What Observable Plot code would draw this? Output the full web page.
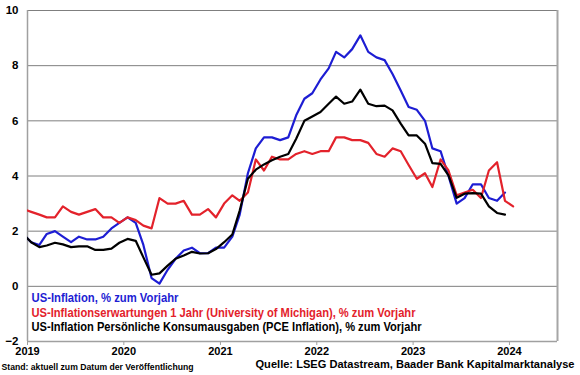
<!DOCTYPE html>
<html>
<head>
<meta charset="utf-8">
<script src="https://cdn.jsdelivr.net/npm/d3@7"></script>
<script src="https://cdn.jsdelivr.net/npm/@observablehq/plot@0.6"></script>
<style>
  html, body { margin: 0; padding: 0; background: #fff; }
  #chart { width: 580px; height: 375px; }
</style>
</head>
<body>
<div id="chart"></div>
<script>
// Monthly observations from Dec 2018 to Jan 2024 (Dec 2018 lies just left of the axis and is clipped)
const firstMonth = { year: 2018, month: 11 }; // December 2018 (0-based month)
const monthCount = 62;

// US CPI inflation, % y/y (Dec 2018 .. Dec 2023)
const cpi = [1.9,
  1.6, 1.5, 1.9, 2.0, 1.8, 1.6, 1.8, 1.7, 1.7, 1.8, 2.1, 2.3,
  2.5, 2.3, 1.5, 0.3, 0.1, 0.6, 1.0, 1.3, 1.4, 1.2, 1.2, 1.4,
  1.4, 1.8, 2.6, 4.1, 5.0, 5.4, 5.4, 5.3, 5.4, 6.2, 6.8, 7.0,
  7.5, 7.9, 8.5, 8.3, 8.6, 9.1, 8.5, 8.3, 8.2, 7.7, 7.1, 6.5,
  6.4, 6.0, 5.0, 4.9, 4.0, 3.0, 3.2, 3.7, 3.7, 3.2, 3.1, 3.4];

// University of Michigan 1-year inflation expectations, % (Dec 2018 .. Jan 2024)
const umich = [2.8,
  2.7, 2.6, 2.5, 2.5, 2.9, 2.7, 2.6, 2.7, 2.8, 2.5, 2.5, 2.3,
  2.5, 2.4, 2.2, 2.1, 3.2, 3.0, 3.0, 3.1, 2.6, 2.6, 2.8, 2.5,
  3.0, 3.3, 3.1, 3.4, 4.6, 4.2, 4.7, 4.6, 4.6, 4.8, 4.9, 4.8,
  4.9, 4.9, 5.4, 5.4, 5.3, 5.3, 5.2, 4.8, 4.7, 5.0, 4.9, 4.4,
  3.9, 4.1, 3.6, 4.6, 4.2, 3.3, 3.4, 3.5, 3.2, 4.2, 4.5, 3.1,
  2.9];

// PCE inflation, % y/y (Dec 2018 .. Dec 2023)
const pce = [1.9,
  1.6, 1.42, 1.48, 1.58, 1.52, 1.42, 1.45, 1.45, 1.32, 1.32, 1.37, 1.58,
  1.72, 1.65, 1.05, 0.42, 0.47, 0.75, 1.0, 1.12, 1.25, 1.19, 1.2, 1.35,
  1.6, 1.88, 2.75, 3.9, 4.23, 4.42, 4.57, 4.7, 4.8, 5.35, 6.0, 6.16,
  6.32, 6.62, 6.88, 6.62, 6.7, 7.13, 6.62, 6.53, 6.55, 6.38, 5.9, 5.47,
  5.47, 5.17, 4.47, 4.44, 4.02, 3.21, 3.36, 3.38, 3.36, 2.9, 2.66, 2.6];

const yTicks = [-2, 0, 2, 4, 6, 8, 10];
const yearTicks = [2019, 2020, 2021, 2022, 2023, 2024];
const xDomainStart = [2019, 0, 1];
const xDomainEnd = [2024, 6, 1];

const seriesNames = [
  "US-Inflation, % zum Vorjahr",
  "US-Inflationserwartungen 1 Jahr (University of Michigan), % zum Vorjahr",
  "US-Inflation Persönliche Konsumausgaben (PCE Inflation), % zum Vorjahr"
];
const seriesColors = ["#1d1dd3", "#e3222b", "#000000"];
const standText = "Stand: aktuell zum Datum der Veröffentlichung";
const sourceText = "Quelle: LSEG Datastream, Baader Bank Kapitalmarktanalyse";

// build month dates (mid-month)
const dates = [];
for (let i = 0; i < monthCount; i++) {
  const m = firstMonth.month + i;
  dates.push(new Date(Date.UTC(firstMonth.year + Math.floor(m / 12), m % 12, 15)));
}
const makeRows = (vals, name) => vals.map((v, i) => ({ date: dates[i], value: v, series: name }));
const cpiRows = makeRows(cpi, seriesNames[0]);
const umichRows = makeRows(umich, seriesNames[1]);
const pceRows = makeRows(pce, seriesNames[2]);

const x0 = new Date(Date.UTC(...xDomainStart));
const x1 = new Date(Date.UTC(...xDomainEnd));
const yearDates = yearTicks.map(y => new Date(Date.UTC(y, 0, 1)));

const font = "'Liberation Sans', Arial, Helvetica, sans-serif";
const legendDy = [-39.5, -25, -10.5];

const chart = Plot.plot({
  width: 580,
  height: 375,
  marginLeft: 27,
  marginRight: 23,
  marginTop: 10,
  marginBottom: 34,
  x: { type: "utc", domain: [x0, x1], label: null },
  y: { domain: [-2, 10], label: null },
  style: { fontFamily: font, fontWeight: "bold", fontSize: "11.5px", color: "#000", background: "#fff", overflow: "visible" },
  marks: [
    Plot.gridY(yTicks.filter(t => t > -2), { stroke: "#7f7f7f", strokeOpacity: 1, strokeWidth: 1 }),
    Plot.ruleX([x0], { stroke: "#a0a0a0", strokeWidth: 1.5 }),
    Plot.ruleX([x1], { stroke: "#a6a6a6", strokeWidth: 2 }),
    Plot.ruleY([-2], { stroke: "#a0a0a0", strokeWidth: 1.5 }),
    Plot.axisY(yTicks, { label: null, tickSize: 0, tickPadding: 9, fontSize: 11.5, fontWeight: "bold", fill: "#000" }),
    Plot.axisX(yearDates, { label: null, tickSize: 4, tickPadding: 2, tickFormat: d3.utcFormat("%Y"), stroke: "#a0a0a0", fill: "#000", fontSize: 11, fontWeight: "bold" }),
    Plot.lineY(cpiRows, { x: "date", y: "value", stroke: seriesColors[0], strokeWidth: 2.2, clip: true }),
    Plot.lineY(umichRows, { x: "date", y: "value", stroke: seriesColors[1], strokeWidth: 2.2, clip: true }),
    Plot.lineY(pceRows, { x: "date", y: "value", stroke: seriesColors[2], strokeWidth: 2.2, clip: true }),
    ...seriesNames.map((name, i) => Plot.text([name], {
      text: d => d, frameAnchor: "bottom-left", dx: 4, dy: legendDy[i],
      textAnchor: "start", fill: seriesColors[i], fontSize: 12, fontWeight: "bold"
    })),
    Plot.text([standText], { text: d => d, frameAnchor: "bottom-left", dx: -26, dy: 28, textAnchor: "start", fill: "#000", fontSize: 9, fontWeight: "bold" }),
    Plot.text([sourceText], { text: d => d, frameAnchor: "bottom-right", dx: 17, dy: 26, textAnchor: "end", fill: "#000", fontSize: 11, fontWeight: "bold" })
  ]
});

// fit text widths to the reference's condensed rendering
const targetWidths = new Map([
  [seriesNames[0], 147],
  [seriesNames[1], 384],
  [seriesNames[2], 390],
  [standText, 192],
  [sourceText, 319]
]);
document.getElementById("chart").appendChild(chart);
chart.querySelectorAll("text").forEach(t => {
  const w = targetWidths.get(t.textContent);
  if (w) {
    t.setAttribute("textLength", w);
    t.setAttribute("lengthAdjust", "spacingAndGlyphs");
  }
});
</script>
</body>
</html>
